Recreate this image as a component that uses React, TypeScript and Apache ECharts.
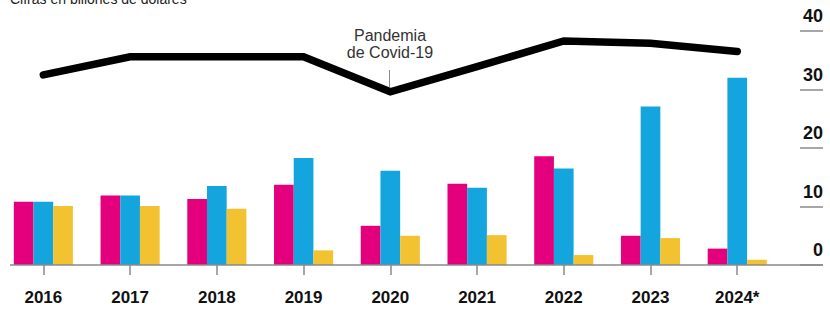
import React, { useEffect, useRef } from "react";
import * as echarts from "echarts";

const years = ["2016", "2017", "2018", "2019", "2020", "2021", "2022", "2023", "2024*"];
const pinkValues = [10.8, 11.9, 11.3, 13.7, 6.7, 13.9, 18.6, 5.0, 2.8];
const blueValues = [10.8, 11.9, 13.5, 18.3, 16.1, 13.2, 16.5, 27.1, 32.0];
const yellowValues = [10.1, 10.1, 9.6, 2.5, 5.0, 5.1, 1.7, 4.6, 0.9];
const lineValues = [32.5, 35.6, 35.6, 35.6, 29.6, 33.9, 38.3, 37.9, 36.5];
const yTicks = [0, 10, 20, 30, 40];

const FONT = "'Liberation Sans', Arial, Helvetica, sans-serif";

export default function App() {
  const ref = useRef<HTMLDivElement>(null);
  useEffect(() => {
    if (!ref.current) return;
    const chart = echarts.init(ref.current, null, { renderer: "svg" });
    const yMin = yTicks[0];
    const yMax = yTicks[yTicks.length - 1];
    const yInterval = yTicks[1] - yTicks[0];
    chart.setOption({
      animation: false,
      textStyle: { fontFamily: FONT },
      grid: [
        { left: -4.6, right: 49.4, top: 31, bottom: 45 },
        { left: 800, right: 7, top: 31, bottom: 45 },
      ],
      xAxis: [
        {
          type: "category",
          gridIndex: 0,
          data: years,
          axisLine: { show: false },
          axisTick: { show: true, alignWithLabel: true, length: 10, lineStyle: { color: "#8a8a8a", width: 1.5 } },
          axisLabel: { color: "#111", fontSize: 17, fontWeight: "bold", margin: 24, fontFamily: FONT },
        },
        { type: "value", gridIndex: 1, show: false },
      ],
      yAxis: [
        { type: "value", gridIndex: 0, min: yMin, max: yMax, interval: yInterval, show: false },
        {
          type: "value",
          gridIndex: 1,
          position: "right",
          min: yMin,
          max: yMax,
          interval: yInterval,
          axisLine: { show: false },
          axisTick: { show: false },
          splitLine: { show: true, lineStyle: { color: "#8a8a8a", width: 1.5 } },
          axisLabel: {
            inside: true,
            margin: 0,
            color: "#111",
            fontSize: 18,
            fontWeight: "bold",
            verticalAlign: "bottom",
            padding: [0, 0, 6, 0],
            fontFamily: FONT,
          },
        },
      ],
      series: [
        { type: "bar", data: pinkValues, barWidth: 19.7, barGap: "0%", itemStyle: { color: "#E4007C" } },
        { type: "bar", data: blueValues, barWidth: 19.7, barGap: "0%", itemStyle: { color: "#14A5DE" } },
        { type: "bar", data: yellowValues, barWidth: 19.7, barGap: "0%", itemStyle: { color: "#F3C231" } },
        {
          type: "line",
          data: lineValues,
          symbol: "none",
          z: 5,
          lineStyle: { color: "#000", width: 7.5, cap: "round", join: "miter" },
        },
      ],
      graphic: [
        {
          type: "line",
          shape: { x1: 10, y1: 265, x2: 823, y2: 265 },
          style: { stroke: "#8a8a8a", lineWidth: 1.5 },
          z: 10,
        },
        {
          type: "text",
          x: 10,
          y: -1,
          style: { text: "Cifras en billones de dólares", fill: "#222", font: `14px ${FONT}`, verticalAlign: "middle" },
        },
        {
          type: "text",
          x: 390,
          y: 35,
          style: { text: "Pandemia", font: `16px ${FONT}`, fill: "#333", align: "center", verticalAlign: "middle" },
        },
        {
          type: "text",
          x: 390,
          y: 52,
          style: { text: "de Covid-19", font: `16px ${FONT}`, fill: "#333", align: "center", verticalAlign: "middle" },
        },
        {
          type: "line",
          shape: { x1: 389.5, y1: 70, x2: 389.5, y2: 87 },
          style: { stroke: "#8a8a8a", lineWidth: 1 },
        },
      ],
    });
    return () => chart.dispose();
  }, []);
  return <div ref={ref} style={{ position: "absolute", left: 0, top: 0, width: 830, height: 310 }} />;
}
